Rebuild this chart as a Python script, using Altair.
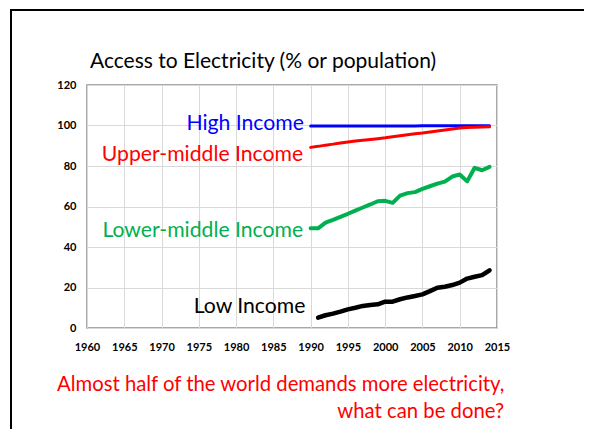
import altair as alt
import pandas as pd

# ---- data ----
years_main = list(range(1990, 2015))
years_low = list(range(1991, 2015))

high_income = [99.7, 99.7, 99.7, 99.7, 99.7, 99.7, 99.8, 99.8, 99.8, 99.8, 99.8, 99.8, 99.8,
               99.8, 99.8, 99.9, 99.9, 99.9, 99.9, 99.9, 99.9, 99.9, 99.9, 99.9, 99.9]
upper_middle = [89.2, 89.7, 90.3, 90.8, 91.4, 91.9, 92.3, 92.7, 93.1, 93.5, 93.9, 94.4, 94.9,
                95.4, 95.9, 96.3, 96.8, 97.3, 97.8, 98.3, 98.8, 99.0, 99.1, 99.3, 99.4]
lower_middle = [49.2, 49.2, 52.0, 53.4, 54.9, 56.4, 58.0, 59.5, 61.0, 62.6, 62.8, 61.8, 65.4,
                66.6, 67.1, 68.7, 70.0, 71.3, 72.3, 74.8, 75.8, 72.4, 79.1, 77.9, 79.6]
low_income = [5.1, 6.3, 7.1, 8.1, 9.2, 10.0, 10.9, 11.4, 11.7, 13.0, 13.0, 14.2, 15.1,
              15.8, 16.6, 18.2, 19.9, 20.4, 21.2, 22.4, 24.4, 25.3, 26.1, 28.5]

series_names = ["High Income", "Upper-middle Income", "Lower-middle Income", "Low Income"]
series_colors = ["#0000ff", "#ff0000", "#00b050", "#000000"]
series_widths = [3, 3, 4, 4.5]

x_ticks = list(range(1960, 2016, 5))
y_ticks = list(range(0, 121, 20))

title_text = "Access to Electricity (% or population)"
note_line1 = "Almost half of the world demands more electricity,"
note_line2 = "what can be done?"

# ---- tables ----
frames = []
for name, yrs, vals in [
    ("Lower-middle Income", years_main, lower_middle),
    ("Low Income", years_low, low_income),
    ("High Income", years_main, high_income),
    ("Upper-middle Income", years_main, upper_middle),
]:
    frames.append(pd.DataFrame({"year": yrs, "value": vals, "series": name}))

FONT = "Lato"

x_enc = alt.X(
    "year:Q",
    scale=alt.Scale(domain=[1960, 2015], nice=False, zero=False),
    axis=alt.Axis(values=x_ticks, format="d", title=None, tickSize=0, labelPadding=13,
                  labelFont=FONT, labelFontWeight="bold", labelFontSize=11, labelColor="black",
                  gridColor="#d9d9d9", gridWidth=1, domain=False, labelFlush=False,
                  labelOverlap=False),
)
y_enc = alt.Y(
    "value:Q",
    scale=alt.Scale(domain=[0, 120], nice=False),
    axis=alt.Axis(values=y_ticks, title=None, tickSize=0, labelPadding=11,
                  labelFont=FONT, labelFontWeight="bold", labelFontSize=11, labelColor="black",
                  gridColor="#d9d9d9", gridWidth=1, domain=False, labelOverlap=False),
)

layers = []
for df in frames:
    name = df["series"].iloc[0]
    i = series_names.index(name)
    layers.append(
        alt.Chart(df).mark_line(color=series_colors[i], strokeWidth=series_widths[i],
                                strokeJoin="round", strokeCap="round")
        .encode(x=x_enc, y=y_enc)
    )

# series labels placed in data coordinates, right-aligned just left of the lines
label_df = pd.DataFrame({
    "series": series_names,
    "year": [1989.1, 1989.0, 1989.0, 1989.3],
    "value": [98.0, 82.3, 45.0, 7.2],
})
labels = alt.Chart(label_df).mark_text(align="right", baseline="alphabetic", font=FONT,
                                       fontSize=21.2).encode(
    x=x_enc,
    y=y_enc,
    text="series:N",
    color=alt.Color("series:N", scale=alt.Scale(domain=series_names, range=series_colors),
                    legend=None),
)

one = pd.DataFrame({"a": [0]})
title = alt.Chart(one).mark_text(text=title_text, align="left", baseline="alphabetic",
                                 font=FONT, fontSize=21, color="black").encode(
    x=alt.value(3), y=alt.value(-17))
note1 = alt.Chart(one).mark_text(text=note_line1, align="left", baseline="alphabetic",
                                 font=FONT, fontSize=20.3, color="#ff0000").encode(
    x=alt.value(-30), y=alt.value(306))
note2 = alt.Chart(one).mark_text(text=note_line2, align="right", baseline="alphabetic",
                                 font=FONT, fontSize=20.3, color="#ff0000").encode(
    x=alt.value(417), y=alt.value(333))
# slide frame: thin filled bars along the top and left edges
border_top = alt.Chart(one).mark_rect(color="black").encode(
    x=alt.value(-77), x2=alt.value(520), y=alt.value(-76), y2=alt.value(-74))
border_left = alt.Chart(one).mark_rect(color="black").encode(
    x=alt.value(-77), x2=alt.value(-75), y=alt.value(-76), y2=alt.value(400))

chart = alt.layer(border_top, border_left, *layers, labels, title, note1, note2).properties(
    width=410, height=243,
    padding={"left": 79, "top": 77, "right": 87, "bottom": 101},
    autosize=alt.AutoSizeParams(type="none"),
    background="white",
).configure_view(stroke="#8c8c8c", strokeWidth=1.5)

chart.save("out.html", embed_options={"renderer": "svg", "actions": False})
